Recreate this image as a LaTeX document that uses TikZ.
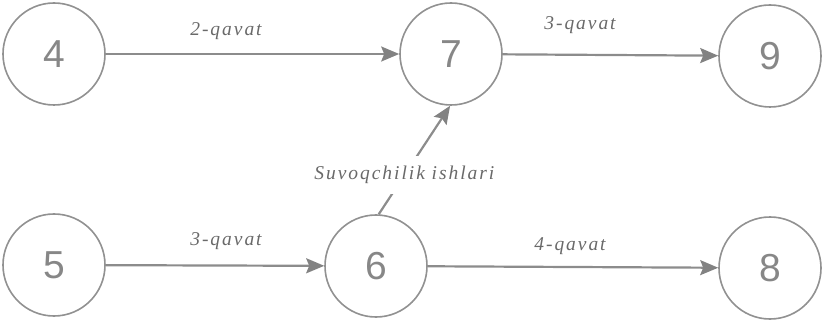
\documentclass[tikz,border=0pt]{standalone}
\usepackage{fontspec}
\setmainfont{Liberation Serif}
\newfontfamily\digitfont{Liberation Sans}
\newfontfamily\labelfont[LetterSpace=10]{Liberation Serif}
\usetikzlibrary{arrows.meta}
\definecolor{circgray}{RGB}{145,145,145}
\definecolor{linegray}{RGB}{140,140,140}
\definecolor{headgray}{RGB}{130,130,130}
\definecolor{textgray}{RGB}{105,105,105}
\definecolor{digitgray}{RGB}{135,135,135}
\tikzset{
  event/.style={circle, draw=circgray, line width=1.6pt, minimum size=102pt, inner sep=0pt,
    font=\digitfont\fontsize{39}{39}\selectfont, text=digitgray},
  work/.style={draw=linegray, line width=2.2pt,
    -{Stealth[length=18pt, width=15pt, inset=3pt, fill=headgray, color=headgray]}},
  lbl/.style={font=\labelfont\itshape\fontsize{19.5}{21}\selectfont, text=textgray, inner sep=0pt}
}
\begin{document}
\begin{tikzpicture}[x=1pt, y=-1pt]
\useasboundingbox (0,0) rectangle (826,320);
\node[event] (n4) at (54,54) {4};
\node[event] (n7) at (451,54) {7};
\node[event] (n9) at (770,56) {9};
\node[event] (n5) at (54,265) {5};
\node[event] (n6) at (376,266) {6};
\node[event] (n8) at (770,268) {8};

\draw[work] (n4) -- (n7);
\draw[work] (n7) -- (n9);
\draw[work] (n5) -- (n6);
\draw[work] (n6) -- (n8);
\draw[work] (n6.87) -- node[pos=0.36, lbl, fill=white, inner xsep=2pt, inner ysep=10pt] (suv) {Suvoqchilik ishlari} (n7.269);

\node[lbl] (l1) at (226,31) {2-qavat};
\node[lbl] (l2) at (580,25) {3-qavat};
\node[lbl] (l3) at (226,241) {3-qavat};
\node[lbl] (l4) at (570,246) {4-qavat};
\end{tikzpicture}
\end{document}
